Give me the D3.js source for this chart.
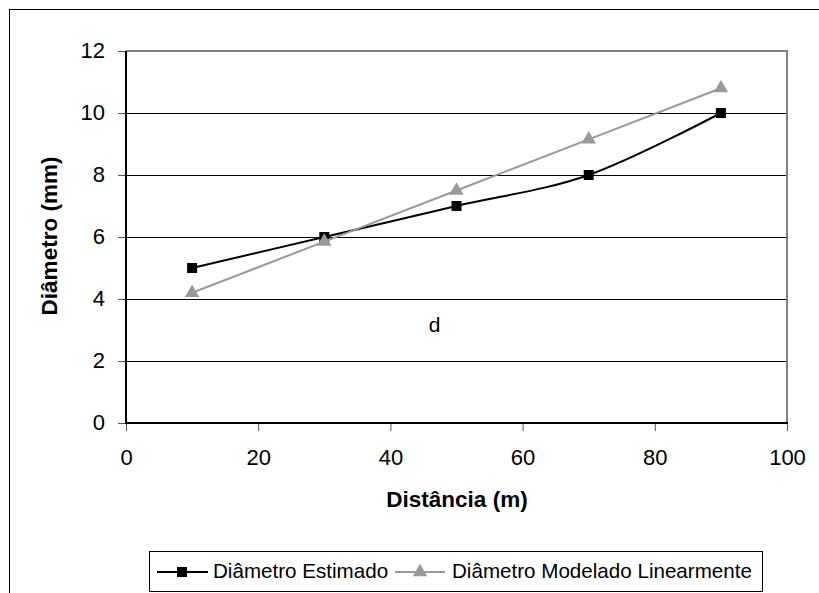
<!DOCTYPE html>
<html><head><meta charset="utf-8">
<script src="https://cdn.jsdelivr.net/npm/d3@7"></script>
<style>
html,body{margin:0;padding:0;background:#fff;}
svg{display:block;font-family:"Liberation Sans",Arial,sans-serif;}
</style></head>
<body><svg id="c" width="819" height="593"></svg>
<script>
const distancias = [10, 30, 50, 70, 90];
const diametroEstimado = [5, 6, 7, 8, 10];
const diametroModelado = [4.2, 5.85, 7.5, 9.15, 10.8];
const xTicks = [0, 20, 40, 60, 80, 100];
const yTicks = [0, 2, 4, 6, 8, 10, 12];
const seriesNames = ["Diâmetro Estimado", "Diâmetro Modelado Linearmente"];
const annotation = {x: 46.7, y: 3.2, text: "d"};

const svg = d3.select("#c");
const L = 126, R = 787, T = 51, B = 423;
const x = d3.scaleLinear().domain([0, 100]).range([L, R]);
const y = d3.scaleLinear().domain([0, 12]).range([B, T]);

// outer chart border
svg.append("rect").attr("x", 9.5).attr("y", 9.5).attr("width", 830).attr("height", 600)
  .attr("fill", "none").attr("stroke", "#000").attr("stroke-width", 1);

// grid lines
svg.append("g").selectAll("line").data(yTicks.filter(d => d > 0 && d < 12)).join("line")
  .attr("x1", L).attr("x2", R).attr("y1", d => y(d) + 0.5).attr("y2", d => y(d) + 0.5)
  .attr("stroke", "#000").attr("stroke-width", 1);

// plot frame top & right
svg.append("path").attr("d", `M${L},${T}H${R}V${B}`).attr("fill", "none")
  .attr("stroke", "#808080").attr("stroke-width", 2);

// axes
const yAxis = d3.axisLeft(y).tickValues(yTicks).tickSize(8).tickPadding(13).tickFormat(d3.format("d"));
const gy = svg.append("g").attr("transform", `translate(${L},0)`).call(yAxis);
const xAxis = d3.axisBottom(x).tickValues(xTicks).tickSize(8).tickPadding(18).tickFormat(d3.format("d"));
const gx = svg.append("g").attr("transform", `translate(0,${B})`).call(xAxis);
[gx, gy].forEach(g => {
  g.select(".domain").remove();
  g.selectAll(".tick line").attr("stroke", "#555").attr("stroke-width", 1);
  g.selectAll(".tick text").attr("fill", "#000").style("font-size", "22px").style("font-family", "'Liberation Sans',Arial,sans-serif");
});
gy.selectAll(".tick text").attr("dy", "0.28em");
// axis lines
svg.append("line").attr("x1", L).attr("x2", L).attr("y1", T).attr("y2", B).attr("stroke", "#000").attr("stroke-width", 2);
svg.append("line").attr("x1", L - 1).attr("x2", R + 1).attr("y1", B).attr("y2", B).attr("stroke", "#000").attr("stroke-width", 2);

// axis titles
svg.append("text").attr("x", 457).attr("y", 507).attr("text-anchor", "middle")
  .style("font-size", "22.5px").style("font-weight", "bold").text("Distância (m)");
svg.append("text").attr("transform", `translate(57,236) rotate(-90)`).attr("text-anchor", "middle")
  .style("font-size", "22.5px").style("font-weight", "bold").text("Diâmetro (mm)");

// series
const est = distancias.map((d, i) => [d, diametroEstimado[i]]);
const mod = distancias.map((d, i) => [d, diametroModelado[i]]);
const lineSmooth = d3.line().x(d => x(d[0])).y(d => y(d[1])).curve(d3.curveCatmullRom.alpha(0));
const lineStraight = d3.line().x(d => x(d[0])).y(d => y(d[1]));

svg.append("path").attr("d", lineSmooth(est)).attr("fill", "none").attr("stroke", "#000").attr("stroke-width", 2);
svg.append("g").selectAll("rect").data(est).join("rect")
  .attr("x", d => x(d[0]) - 5).attr("y", d => y(d[1]) - 5).attr("width", 10).attr("height", 10).attr("fill", "#000");

svg.append("path").attr("d", lineStraight(mod)).attr("fill", "none").attr("stroke", "#999").attr("stroke-width", 2);
const tri = d3.symbol().type(d3.symbolTriangle).size(90);
svg.append("g").selectAll("path").data(mod).join("path")
  .attr("transform", d => `translate(${x(d[0])},${y(d[1])})`).attr("d", tri).attr("fill", "#999");

// annotation
svg.append("text").attr("x", x(annotation.x)).attr("y", 332).attr("text-anchor", "middle")
  .style("font-size", "21px").text(annotation.text);

// legend
const lg = svg.append("g");
lg.append("rect").attr("x", 149.5).attr("y", 551.5).attr("width", 613).attr("height", 40)
  .attr("fill", "#fff").attr("stroke", "#000").attr("stroke-width", 1);
const ly = 572;
lg.append("line").attr("x1", 157).attr("x2", 208).attr("y1", ly).attr("y2", ly).attr("stroke", "#000").attr("stroke-width", 2);
lg.append("rect").attr("x", 177).attr("y", ly - 5).attr("width", 10).attr("height", 10).attr("fill", "#000");
lg.append("text").attr("x", 213).attr("y", 578).style("font-size", "20.6px").text(seriesNames[0]);
lg.append("line").attr("x1", 395).attr("x2", 445).attr("y1", ly).attr("y2", ly).attr("stroke", "#999").attr("stroke-width", 2);
lg.append("path").attr("transform", `translate(420,${ly})`).attr("d", tri).attr("fill", "#999");
lg.append("text").attr("x", 452).attr("y", 578).style("font-size", "20.6px").text(seriesNames[1]);
</script></body></html>
